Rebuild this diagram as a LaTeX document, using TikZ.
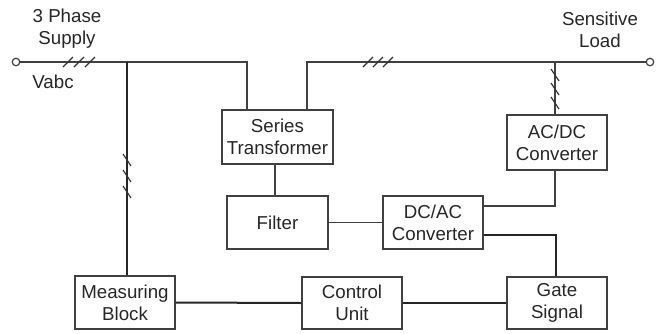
\documentclass[tikz,border=0pt]{standalone}
\usepackage{fontspec}
\setmainfont{Liberation Sans}
\usetikzlibrary{calc}
\begin{document}
\begin{tikzpicture}[x=1pt,y=-1pt,
  box/.style={draw=black!75, line width=1.2pt, minimum width=100pt, minimum height=53pt,
    align=center, font=\fontsize{18.7}{22}\selectfont, text=black!85, inner sep=0pt},
  thinline/.style={draw=black!75, line width=1.3pt},
  thickline/.style={draw=black!85, line width=2pt},
  tick/.style={draw=black!80, line width=1.2pt},
  lbl/.style={align=center, font=\fontsize{18.7}{22}\selectfont, text=black!85, inner sep=0pt},
  term/.style={circle, draw=black!75, line width=1.2pt, minimum size=7.5pt, inner sep=0pt}]
\useasboundingbox (0,0) rectangle (665,333);

% blocks
\node[box, minimum width=111pt, minimum height=54pt] (st) at (277.5,137) {Series\\Transformer};
\node[box, minimum width=101pt] (filter) at (277.5,222.5) {Filter};
\node[box] (dcac) at (433,222.5) {DC/AC\\Converter};
\node[box, minimum height=55pt] (acdc) at (557,142.5) {AC/DC\\Converter};
\node[box] (mb) at (125,302.5) {Measuring\\Block};
\node[box, minimum height=52pt] (cu) at (352,303) {Control\\Unit};
\node[box, minimum height=52pt] (gs) at (557,303) {Gate\\Signal};

% terminals and labels
\node[term] (src) at (16,62) {};
\node[term] (load) at (650,62) {};
\node[lbl] (supply) at (67,29) {3 Phase\\Supply};
\node[lbl] (vabc) at (53,82) {Vabc};
\node[lbl] (loadlbl) at (600,30) {Sensitive\\Load};

\coordinate (j1) at (127,62);
\coordinate (j2) at (555,62);

% connectors
\draw[thinline] (src.east) -- (j1) -| ($(st.north)+(-30.5,0)$);
\draw[thinline] ($(st.north)+(29.5,0)$) |- (j2) -- (load.west);
\draw[thickline] (j1) -- (j1 |- mb.north);
\draw[thinline] (j2) -- (j2 |- acdc.north);
\draw[thinline] ($(st.south)+(-2.5,0)$) -- ($(filter.north)+(-2.5,0)$);
\draw[thinline] (filter.east) -- (dcac.west);
\draw[thinline] ($(acdc.south)+(-2,0)$) |- ($(dcac.east)+(0,-16.5)$);
\draw[thickline] ($(dcac.east)+(0,12.5)$) -| ($(gs.north)+(-1,0)$);
\draw[thickline] (mb.east) -- (cu.west);
\draw[thickline] (cu.east) -- (gs.west);

% three-phase ticks
\foreach \x in {68,79,90} \draw[tick] (\x-5,67) -- (\x+5,57);
\foreach \x in {368,378,388} \draw[tick] (\x-5,67) -- (\x+5,57);
\foreach \y in {160,176,192} \draw[tick] (123,\y-6) -- (131,\y+6);
\foreach \y in {75,89,103} \draw[tick] (551,\y-6) -- (559,\y+6);
\end{tikzpicture}
\end{document}
